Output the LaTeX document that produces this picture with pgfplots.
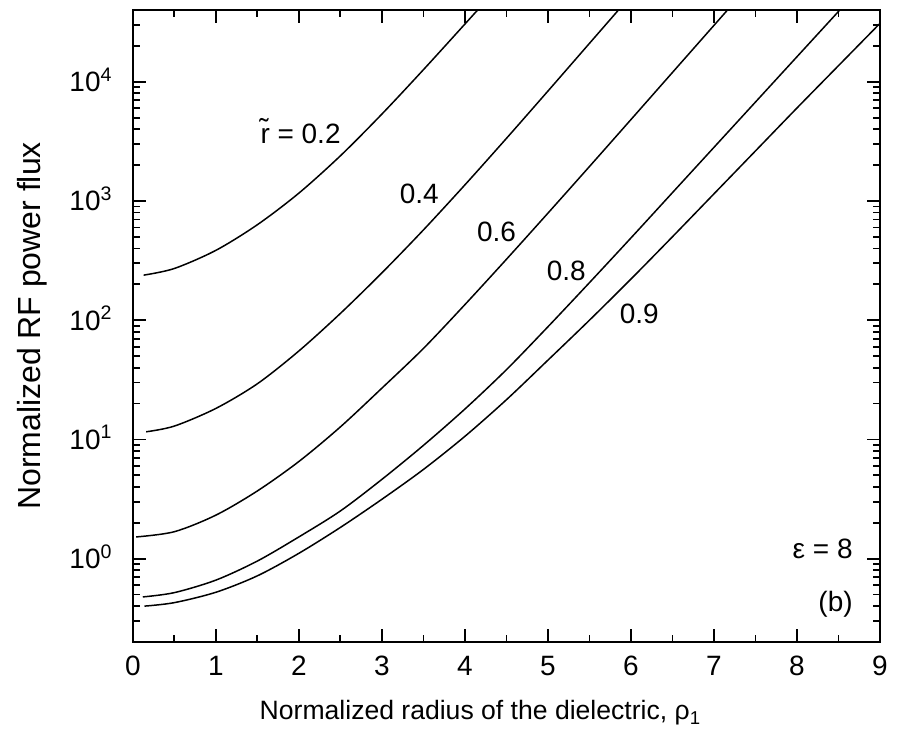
\documentclass[border=0pt]{standalone}
\usepackage{fontspec}
\setmainfont{Liberation Sans}
\usepackage{pgfplots}
\pgfplotsset{compat=1.18}
\pgfplotsset{curve/.style={black, line width=0.75pt, smooth, tension=0.5, mark=none}}
\begin{document}
\begin{tikzpicture}
\begin{axis}[
  at={(0,0)}, anchor=south west,
  scale only axis, width=374pt, height=316.35pt,
  xmin=0, xmax=9, ymode=log, ymin=0.2, ymax=4e4,
  xtick={0,1,2,3,4,5,6,7,8,9},
  xticklabels={0,1,2,3,4,5,6,7,8,9},
  minor xtick={0.5,1.5,2.5,3.5,4.5,5.5,6.5,7.5,8.5},
  ytick={1,10,100,1000,10000},
  yticklabels={10\textsuperscript{0},10\textsuperscript{1},10\textsuperscript{2},10\textsuperscript{3},10\textsuperscript{4}},
  minor ytick={0.2,0.3,0.4,0.5,0.6,0.7,0.8,0.9,2,3,4,5,6,7,8,9,20,30,40,50,60,70,80,90,200,300,400,500,600,700,800,900,2000,3000,4000,5000,6000,7000,8000,9000,20000,30000,40000},
  tick align=inside, tick pos=both,
  major tick length=6.5pt, minor tick length=3.5pt,
  axis line style={line width=1pt},
  every tick/.style={black, line width=0.9pt},
  tick label style={font=\fontsize{14}{16}\selectfont},
  xticklabel style={anchor=base, inner sep=0pt, yshift=-17pt},
  yticklabel style={anchor=base east, inner sep=0pt, xshift=-10pt, yshift=-5pt},
  xlabel={Normalized radius of the dielectric, ρ\textsubscript{1}},
  ylabel={Normalized RF power flux},
  xlabel style={font=\fontsize{13.3}{16}\selectfont, at={(axis description cs:0.5,0)}, anchor=base, yshift=-39pt, xshift=-13pt},
  ylabel style={font=\fontsize{16}{18}\selectfont, at={(axis description cs:-0.135,0.5)}, anchor=center, rotate=0},
]
% r = 0.2
\addplot[curve] coordinates {(0.13,238.8) (0.5,271.5) (1.0,385.5) (1.5,632.4) (2.0,1164) (2.5,2393) (3.0,5358) (3.5,12620) (4.0,30480) (4.5,73960)};
% r = 0.4
\addplot[curve] coordinates {(0.16,11.59) (0.5,12.94) (1.0,18.2) (1.5,29.31) (2.0,55.21) (2.5,114.0) (3.0,249.5) (3.5,571.5) (4.0,1365) (4.5,3350) (5.0,8356) (5.5,20990) (6.0,52720)};
% r = 0.6
\addplot[curve] coordinates {(0.04,1.521) (0.5,1.683) (1.0,2.317) (1.5,3.698) (2.0,6.531) (2.5,12.74) (3.0,26.92) (3.5,57.94) (4.0,135.2) (4.5,324.3) (5.0,790.7) (5.5,1945) (6.0,4819) (6.5,11970) (7.0,29720) (7.5,73790)};
% r = 0.8
\addplot[curve] coordinates {(0.12,0.4775) (0.5,0.5188) (1.0,0.6607) (1.5,0.955) (2.0,1.522) (2.5,2.512) (3.0,4.624) (3.5,8.913) (4.0,17.99) (4.5,38.46) (5.0,88.1) (5.5,206.5) (6.0,489.8) (6.5,1175) (7.0,2818) (7.5,6761) (8.0,16220) (8.5,38900) (9.0,93330)};
% r = 0.9
\addplot[curve] coordinates {(0.14,0.3999) (0.5,0.4276) (1.0,0.5224) (1.5,0.7178) (2.0,1.109) (2.5,1.828) (3.0,3.148) (3.5,5.598) (4.0,10.62) (4.5,21.53) (5.0,46.24) (5.5,100) (6.0,221.3) (6.5,501.2) (7.0,1148) (7.5,2630) (8.0,6026) (8.5,13650) (9.0,30900)};
\node[anchor=base, font=\fontsize{14}{16}\selectfont] at (axis cs:2.02,3048) {\~{r} = 0.2};
\node[anchor=base, font=\fontsize{14}{16}\selectfont] at (axis cs:3.45,953) {0.4};
\node[anchor=base, font=\fontsize{14}{16}\selectfont] at (axis cs:4.38,455) {0.6};
\node[anchor=base, font=\fontsize{14}{16}\selectfont] at (axis cs:5.22,217) {0.8};
\node[anchor=base, font=\fontsize{14}{16}\selectfont] at (axis cs:6.10,94) {0.9};
\node[anchor=base east, inner sep=0pt, font=\fontsize{14}{16}\selectfont] at (axis cs:8.675,1.01) {ε = 8};
\node[anchor=base east, inner sep=0pt, font=\fontsize{14}{16}\selectfont] at (axis cs:8.675,0.362) {(b)};
\end{axis}
\pgfresetboundingbox
\path[use as bounding box] (-66.5pt,-48.15pt) rectangle (382.5pt,321.35pt);
\end{tikzpicture}
\end{document}
